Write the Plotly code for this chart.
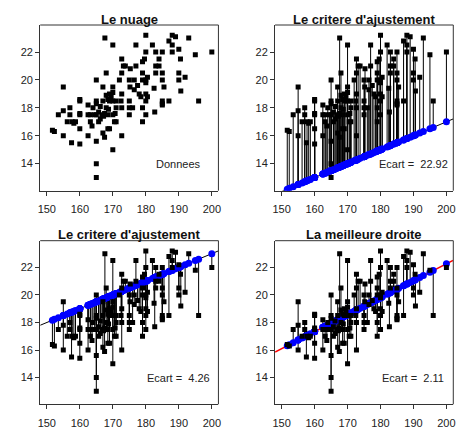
import numpy as np
import plotly.graph_objects as go

# ---- data ----
taille = [151.7, 152.3, 153.5, 155, 155, 155, 157, 157, 156.2, 157.5, 157.7, 158.7, 158.2,
          160, 160, 160, 160, 160, 160, 162.5, 162.5, 162.5, 163.2, 163.2, 163.7, 164, 164.5,
          165, 165, 165, 165, 165, 165, 165.7, 165.7, 165, 166.2, 166.7, 167, 167, 167, 167.5,
          167.6, 167.5, 168, 168, 168, 168.5, 168.5, 169, 169, 169.5, 170, 170, 170, 170, 170,
          170, 170.5, 171, 171, 172, 172.5, 172.7, 172.7, 172.7, 172.7, 172.7, 173.2, 173.8,
          175, 175, 175, 175, 175.2, 175.3, 176, 176.5, 176.5, 177, 177, 177.5, 178, 178.5,
          179, 179, 179, 179, 179, 179.6, 180, 180, 180, 180, 180, 180, 180, 180.5, 180.5,
          182, 182.5, 182.7, 183, 183, 183, 184, 184, 185, 185, 185, 185, 185, 185, 185.5,
          187, 187, 188, 188, 188, 189, 190, 190, 190, 190.5, 190.6, 191.9, 193, 195, 196, 200,
          168.7, 168.5, 170.7, 167.2, 166.2, 171, 169]
pointure = [16.4, 16.3, 17.5, 19.5, 17.8, 16.0, 18.0, 17.5, 17.0, 15.5, 17.0, 17.0, 16.9,
            18.6, 18.5, 17.6, 17.5, 16.5, 15.4, 16.0, 17.5, 18.2, 17.5, 17.0, 16.7, 18.0, 17.5,
            17.5, 20.0, 18.5, 15.6, 14.0, 13.0, 17.0, 17.7, 18.3, 17.2, 17.5, 19.5, 18.5, 16.2, 15.9,
            23.0, 17.6, 20.5, 18.9, 18.0, 17.5, 16.5, 18.5, 16.5, 18.8, 22.5, 19.5, 19.1, 18.5, 17.5,
            15.0, 17.0, 18.5, 17.0, 20.0, 18.5, 19.0, 20.5, 21.5, 16.0, 18.0, 21.0, 21.0,
            20.0, 18.5, 18.0, 17.5, 19.5, 20.8, 18.0, 20.0, 19.3, 22.5, 21.0, 19.6, 19.0, 18.8,
            20.5, 20.0, 18.0, 17.0, 21.3, 21.5, 23.2, 22.0, 20.0, 19.8, 19.0, 18.5, 17.5, 20.2, 18.8,
            22.5, 19.4, 17.7, 22.0, 20.5, 21.0, 21.5, 21.0, 22.0, 20.5, 20.0, 18.5, 18.3, 18.2, 19.5,
            18.5, 22.8, 23.2, 22.0, 22.5, 23.1, 22.2, 20.5, 20.0, 21.5, 19.2, 20.2, 23.0, 21.8, 18.5, 22.0,
            17.9, 18.6, 17.6, 17.4, 18.1, 18.0, 19.0]

titles = ["Le nuage", "Le critere d'ajustement", "Le critere d'ajustement", "La meilleure droite"]
labels = ["Donnees", "Ecart =  22.92", "Ecart =  4.26", "Ecart =  2.11"]
intercepts = [None, -3.0, 3.0, -2.39]
slopes = [None, 0.10, 0.10, 0.1233]
line_colors = [None, "black", "black", "red"]

x_ticks = [150, 160, 170, 180, 190, 200]
y_ticks = [14, 16, 18, 20, 22]

W, H = 456, 429
# panel boxes in pixels: (left, right, top, bottom)
boxes = [(37.7, 218.3, 25, 190.7), (275.7, 456.3, 25, 190.7),
         (37.7, 218.3, 240.7, 404.3), (275.7, 456.3, 240.7, 404.3)]
title_y = [20, 20, 234.5, 234.5]

x = np.array(taille)
y = np.array(pointure)

fig = go.Figure()
font = "Liberation Sans, Arial, Helvetica, sans-serif"
annotations = []
shapes = []
for i in range(4):
    xa = "x" if i == 0 else f"x{i+1}"
    ya = "y" if i == 0 else f"y{i+1}"
    if intercepts[i] is not None:
        a, b = intercepts[i], slopes[i]
        yhat = a + b * x
        sx, sy = [], []
        for xi, yi, hi in zip(x, y, yhat):
            sx += [xi, xi, None]
            sy += [yi, hi, None]
        fig.add_trace(go.Scatter(x=sx, y=sy, mode="lines", line=dict(color="black", width=1),
                                 xaxis=xa, yaxis=ya, showlegend=False, hoverinfo="skip"))
        lx = np.array([148, 202])
        fig.add_trace(go.Scatter(x=lx, y=a + b * lx, mode="lines",
                                 line=dict(color=line_colors[i], width=1.5 if i == 3 else 1),
                                 xaxis=xa, yaxis=ya, showlegend=False, hoverinfo="skip"))
        fig.add_trace(go.Scatter(x=x, y=yhat, mode="markers",
                                 marker=dict(color="#0000ff", size=7, symbol="circle"),
                                 xaxis=xa, yaxis=ya, showlegend=False))
    fig.add_trace(go.Scatter(x=x, y=y, mode="markers",
                             marker=dict(color="black", size=5, symbol="square"),
                             xaxis=xa, yaxis=ya, showlegend=False))
    l, r, t, btm = boxes[i]
    common_x = dict(domain=[l / W, min(r / W, 1.0)], range=[148, 202], tickvals=x_ticks,
                    ticks="outside", ticklen=4, tickcolor="#333", showline=True, linecolor="#333",
                    linewidth=1, showgrid=False, zeroline=False,
                    tickfont=dict(family=font, size=11, color="#222"), anchor=ya,
                    ticklabelstandoff=4)
    common_y = dict(domain=[1 - btm / H, 1 - t / H], range=[12.06, 23.94], tickvals=y_ticks,
                    ticks="outside", ticklen=4, tickcolor="#333", showline=True, linecolor="#333",
                    linewidth=1, showgrid=False, zeroline=False,
                    tickfont=dict(family=font, size=11, color="#222"), anchor=xa)
    fig.update_layout(**{("xaxis" if i == 0 else f"xaxis{i+1}"): common_x,
                         ("yaxis" if i == 0 else f"yaxis{i+1}"): common_y})
    # top and right edges of the frame
    shapes.append(dict(type="line", xref="paper", yref="paper", x0=l / W, x1=r / W,
                       y0=1 - t / H, y1=1 - t / H, line=dict(color="#333", width=1)))
    shapes.append(dict(type="line", xref="paper", yref="paper", x0=r / W, x1=r / W,
                       y0=1 - t / H, y1=1 - btm / H, line=dict(color="#333", width=1)))
    annotations.append(dict(text="<b>" + titles[i] + "</b>", x=(l + r) / 2 / W,
                            y=1 - title_y[i] / H, xref="paper", yref="paper",
                            showarrow=False, xanchor="center", yanchor="middle",
                            font=dict(family=font, size=13, color="#111")))
    annotations.append(dict(text=labels[i], x=190, y=14, xref=xa, yref=ya, showarrow=False,
                            xanchor="center", yanchor="middle",
                            font=dict(family=font, size=11, color="#222")))

fig.update_layout(width=W, height=H, margin=dict(l=0, r=0, t=0, b=0),
                  plot_bgcolor="white", paper_bgcolor="white",
                  annotations=annotations, shapes=shapes)
fig.write_html("out.html", config={"displayModeBar": False},
               post_script="document.body.style.margin='0';document.body.style.overflow='hidden';")
